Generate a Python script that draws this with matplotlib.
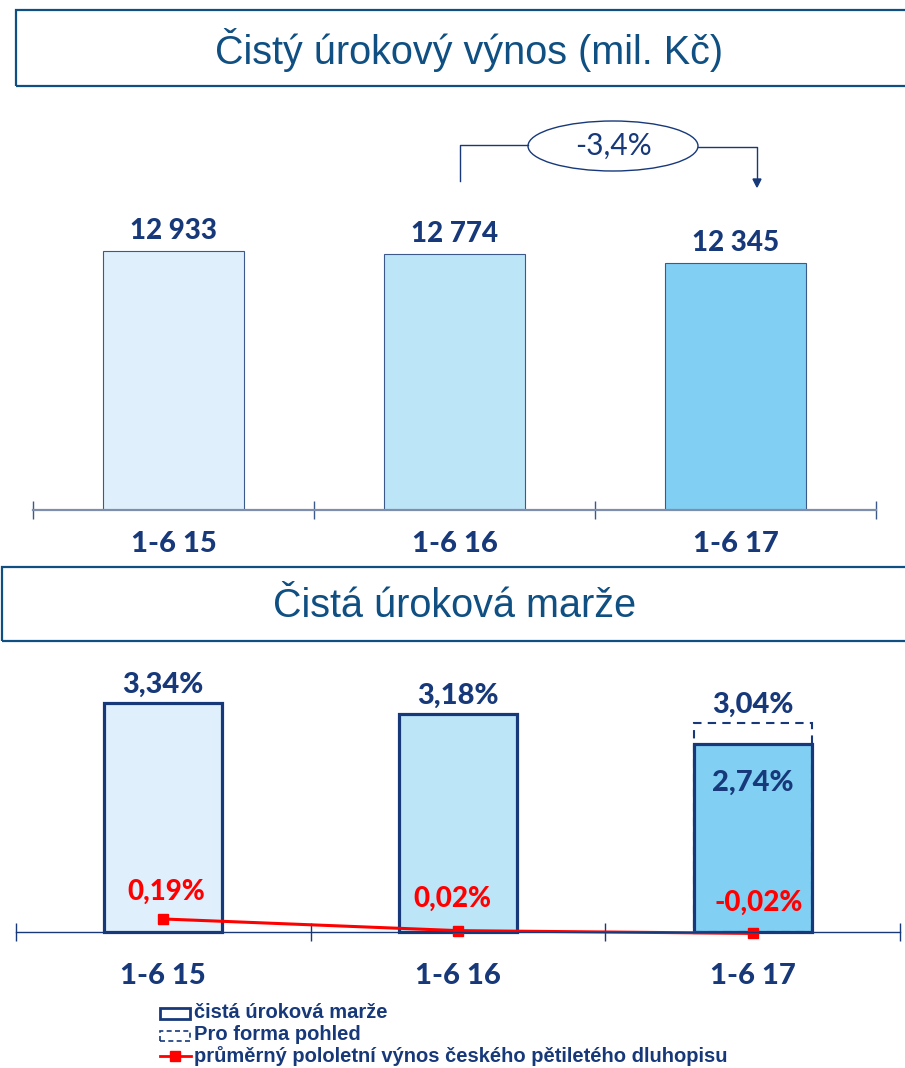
import matplotlib.pyplot as plt
from matplotlib.patches import Rectangle, Ellipse
from matplotlib.lines import Line2D

# data
periods = ['1-6 15', '1-6 16', '1-6 17']
nii = [12933, 12774, 12345]
nii_labels = ['12 933', '12 774', '12 345']
nii_change = '-3,4%'
margin = [3.34, 3.18, 2.74]
margin_labels = ['3,34%', '3,18%', '2,74%']
proforma = 3.04
proforma_label = '3,04%'
bond = [0.19, 0.02, -0.02]
bond_labels = ['0,19%', '0,02%', '-0,02%']
legend_items = ['čistá úroková marže', 'Pro forma pohled',
                'průměrný pololetní výnos českého pětiletého dluhopisu']

W, H = 905, 1068
NAVY = '#17397a'
TITLE_BLUE = '#0f4f82'
RED = '#ff0000'
bar_colors = ['#dff0fc', '#bde5f8', '#82cff4']
BOLD = dict(family=['Lato', 'DejaVu Sans'], weight='black')

fig = plt.figure(figsize=(W / 100, H / 100), dpi=100)


def box(x0, y0, x1, y1):
    return [x0 / W, 1 - y1 / H, (x1 - x0) / W, (y1 - y0) / H]


def fx(x):
    return x / W


def fy(y):
    return 1 - y / H


# title boxes
for (x0, y0, x1, y1), title, cx in [((16, 10, 915, 86), 'Čistý úrokový výnos (mil. Kč)', 469),
                                   ((2, 567, 915, 641), 'Čistá úroková marže', 455)]:
    fig.add_artist(Rectangle((fx(x0), fy(y1)), fx(x1 - x0), (y1 - y0) / H,
                             transform=fig.transFigure, fill=False,
                             edgecolor=TITLE_BLUE, lw=1.6))
    fig.text(fx(cx), fy((y0 + y1) / 2 + 2), title, ha='center', va='center',
             fontsize=28.5, color=TITLE_BLUE, family='Liberation Sans')

# ---- top chart
ax1 = fig.add_axes(box(33, 100, 876, 510))
x = range(len(periods))
ax1.bar(x, nii, width=0.5, color=bar_colors, edgecolor='#3b5a8a', lw=0.8)
ax1.set_xlim(-0.5, 2.5)
ax1.set_ylim(0, 20470)
for s in ['top', 'left', 'right']:
    ax1.spines[s].set_visible(False)
ax1.spines['bottom'].set_color('#7f8fab')
ax1.spines['bottom'].set_linewidth(1.6)
ax1.set_yticks([])
ax1.set_xticks([-0.5, 0.5, 1.5, 2.5])
ax1.set_xticklabels([])
ax1.tick_params(axis='x', direction='inout', length=13, width=1, color='#3b5a8a')
for i, v in enumerate(nii):
    ax1.text(i, v + 350, nii_labels[i], ha='center', va='bottom', fontsize=20,
             color=NAVY, **BOLD)
    ax1.text(i, -1700, periods[i], ha='center', va='center', fontsize=21,
             color=NAVY, **BOLD)

# change annotation
fig.add_artist(Line2D([fx(460), fx(460), fx(528)], [fy(181), fy(145), fy(145)],
                      transform=fig.transFigure, color=NAVY, lw=1))
fig.add_artist(Line2D([fx(698), fx(757), fx(757)], [fy(147), fy(147), fy(180)],
                      transform=fig.transFigure, color=NAVY, lw=1))
fig.add_artist(plt.Polygon([[fx(753), fy(179)], [fx(761), fy(179)], [fx(757), fy(187)]],
                           closed=True, transform=fig.transFigure, color=NAVY))
fig.add_artist(Ellipse((fx(613), fy(146)), fx(170), 50 / H, transform=fig.transFigure,
                       fill=False, edgecolor=NAVY, lw=1))
fig.text(fx(613), fy(146), nii_change, ha='center', va='center', fontsize=21.5,
         color=NAVY, family=['Lato', 'DejaVu Sans'])

# ---- bottom chart
ax2 = fig.add_axes(box(16, 660, 900, 950))
ax2.bar(x, margin, width=0.4, color=bar_colors, edgecolor=NAVY, lw=2.3)
ax2.bar(2, proforma, width=0.4, fill=False, edgecolor=NAVY, lw=1.5, ls=(0, (4, 3)))
ax2.plot(x, bond, color=RED, lw=2.2, marker='s', markersize=7)
ax2.set_xlim(-0.5, 2.5)
ax2.set_ylim(-18 / 68.6, 272 / 68.6)
for s in ['top', 'left', 'right']:
    ax2.spines[s].set_visible(False)
ax2.spines['bottom'].set_position(('data', 0))
ax2.spines['bottom'].set_color(NAVY)
ax2.spines['bottom'].set_linewidth(1)
ax2.set_yticks([])
ax2.set_xticks([-0.5, 0.5, 1.5, 2.5])
ax2.set_xticklabels([])
ax2.tick_params(axis='x', direction='inout', length=13, width=1, color=NAVY)

top_vals = [margin[0], margin[1], proforma]
top_labels = [margin_labels[0], margin_labels[1], proforma_label]
for i in x:
    ax2.text(i, top_vals[i] + 0.08, top_labels[i], ha='center', va='bottom',
             fontsize=21, color=NAVY, **BOLD)
    ax2.text(i, -0.64, periods[i], ha='center', va='center', fontsize=21,
             color=NAVY, **BOLD)
ax2.text(2, 2.18, margin_labels[2], ha='center', va='center', fontsize=21,
         color=NAVY, **BOLD)
bond_pos = [(0.01, 0.59), (-0.02, 0.49), (0.02, 0.42)]
for i, (dx, yy) in enumerate(bond_pos):
    ax2.text(i + dx, yy, bond_labels[i], ha='center', va='center', fontsize=20,
             color=RED, **BOLD)

# ---- legend
fig.add_artist(Rectangle((fx(160), fy(1019)), fx(30), 11 / H, transform=fig.transFigure,
                         fill=False, edgecolor=NAVY, lw=2))
fig.add_artist(Rectangle((fx(160), fy(1041)), fx(30), 10 / H, transform=fig.transFigure,
                         fill=False, edgecolor=NAVY, lw=1.2, ls=(0, (3, 2))))
fig.add_artist(Line2D([fx(160), fx(191)], [fy(1056), fy(1056)], transform=fig.transFigure,
                      color=RED, lw=2))
fig.add_artist(Line2D([fx(175)], [fy(1056)], transform=fig.transFigure,
                      color=RED, marker='s', markersize=7, lw=0))
for yy, t in zip([1012, 1034, 1056], legend_items):
    fig.text(fx(194), fy(yy), t, ha='left', va='center', fontsize=14.5,
             color=NAVY, family='Liberation Sans', weight='bold')

fig.savefig('out.png', dpi=100)
